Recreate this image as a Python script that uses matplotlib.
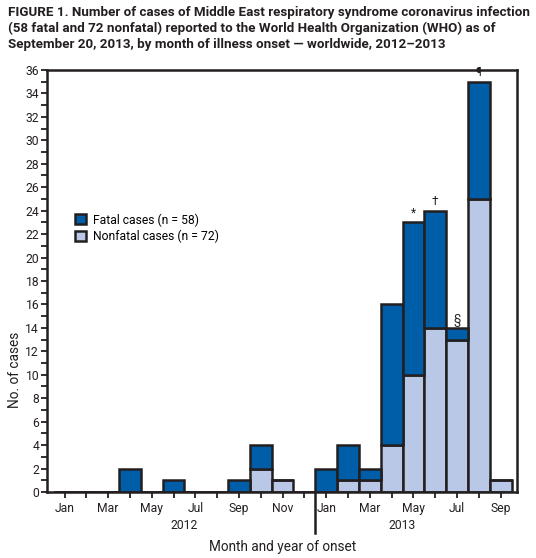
import numpy as np
import matplotlib
matplotlib.use("Agg")
import matplotlib.pyplot as plt
from matplotlib.patches import Patch

plt.rcParams['font.family'] = ['Roboto', 'DejaVu Sans']

# months Jan 2012 .. Sep 2013
months = ['Jan', 'Feb', 'Mar', 'Apr', 'May', 'Jun', 'Jul', 'Aug', 'Sep', 'Oct', 'Nov', 'Dec',
          'Jan', 'Feb', 'Mar', 'Apr', 'May', 'Jun', 'Jul', 'Aug', 'Sep']
fatal = [0, 0, 0, 2, 0, 1, 0, 0, 1, 2, 0, 0,
         2, 3, 1, 12, 13, 10, 1, 10, 0]
nonfatal = [0, 0, 0, 0, 0, 0, 0, 0, 0, 2, 1, 0,
            0, 1, 1, 4, 10, 14, 13, 25, 1]
footnotes = {16: '*', 17: '\u2020', 18: '\u00a7', 19: '\u00b6'}
years = ['2012', '2013']

c_fatal = '#005ea8'
c_nonfatal = '#b9c8e6'
c_edge = '#231f20'

x = np.arange(len(months))
fatal = np.array(fatal)
nonfatal = np.array(nonfatal)
total = fatal + nonfatal

fig = plt.figure(figsize=(5.36, 5.58), dpi=100)
ax = fig.add_axes([0.0886, 0.1183, 0.8760, 0.7563])

ax.bar(x, nonfatal, width=1.0, color=c_nonfatal, edgecolor=c_edge, linewidth=1.8, zorder=2)
ax.bar(x, fatal, bottom=nonfatal, width=1.0, color=c_fatal, edgecolor=c_edge, linewidth=1.8, zorder=2)

for i, s in footnotes.items():
    ax.text(x[i], total[i] + 0.2, s, ha='center', va='bottom', fontsize=8.5, color=c_edge)

ax.set_xlim(-0.78, 20.75)
ax.set_ylim(0, 36)
ax.set_yticks(np.arange(0, 37, 2))
ax.set_yticks(np.arange(0, 37, 1), minor=True)
ax.set_xticks(x)
ax.set_xticklabels([m if i % 2 == 0 else '' for i, m in enumerate(months)])

for sp in ax.spines.values():
    sp.set_linewidth(1.8)
    sp.set_color(c_edge)
ax.tick_params(axis='both', which='both', direction='out', color=c_edge, width=1.3, labelsize=8.7,
               labelcolor=c_edge)
ax.tick_params(axis='y', which='major', length=4, pad=2)
ax.tick_params(axis='y', which='minor', length=4)
ax.tick_params(axis='x', length=4, pad=3)

# year divider and year labels
trans = ax.get_xaxis_transform()
ax.plot([11.5, 11.5], [0, -0.098], transform=trans, color=c_edge, lw=1.8, clip_on=False)
ax.text(5.5, -0.065, years[0], transform=trans, ha='center', va='top', fontsize=8.7, color=c_edge)
ax.text(15.5, -0.065, years[1], transform=trans, ha='center', va='top', fontsize=8.7, color=c_edge)

ax.set_xlabel('Month and year of onset', fontsize=9.8, color=c_edge, labelpad=18)
ax.set_ylabel('No. of cases', fontsize=9.8, color=c_edge)
ax.yaxis.set_label_coords(-0.055, 0.29)

handles = [Patch(facecolor=c_fatal, edgecolor=c_edge, linewidth=1.8, label=f'Fatal cases (n = {fatal.sum()})'),
           Patch(facecolor=c_nonfatal, edgecolor=c_edge, linewidth=1.8, label=f'Nonfatal cases (n = {nonfatal.sum()})')]
ax.legend(handles=handles, loc='upper left', bbox_to_anchor=(0.045, 0.675), frameon=False,
          fontsize=8.7, handlelength=0.9, handleheight=0.9, handletextpad=0.6, labelspacing=0.25,
          borderpad=0)

fig.text(0.015, 0.99,
         'FIGURE 1. Number of cases of Middle East respiratory syndrome coronavirus infection\n'
         '(58 fatal and 72 nonfatal) reported to the World Health Organization (WHO) as of\n'
         'September 20, 2013, by month of illness onset \u2014 worldwide, 2012\u20132013',
         ha='left', va='top', fontsize=9.6, fontweight='bold', color=c_edge, linespacing=1.32)

fig.savefig('out.png', dpi=100)
